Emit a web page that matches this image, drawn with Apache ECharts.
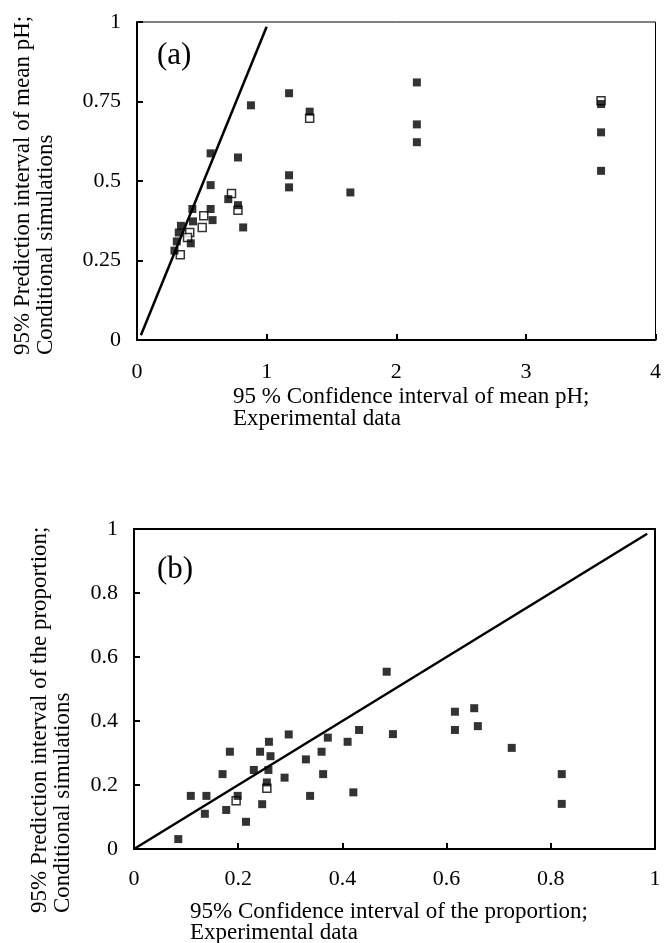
<!DOCTYPE html>
<html>
<head>
<meta charset="utf-8">
<script src="https://cdn.jsdelivr.net/npm/echarts@6/dist/echarts.min.js"></script>
<style>
  html, body { margin: 0; padding: 0; background: #fff; }
  #chart { width: 664px; height: 943px; }
</style>
</head>
<body>
<div id="chart"></div>
<script>
// (a) mean pH: [experimental CI, simulated PI]
var phPoints = [
  [0.879, 0.738], [1.173, 0.776], [1.332, 0.718], [1.173, 0.518], [1.173, 0.480],
  [0.568, 0.587], [0.779, 0.574], [0.568, 0.487], [0.704, 0.443], [0.779, 0.424],
  [0.819, 0.354], [0.568, 0.412], [0.583, 0.377], [0.427, 0.412], [0.432, 0.373],
  [0.415, 0.304], [0.339, 0.359], [0.322, 0.338], [0.307, 0.310], [0.289, 0.281],
  [2.159, 0.810], [2.159, 0.678], [2.159, 0.622], [1.646, 0.464],
  [3.580, 0.742], [3.580, 0.653], [3.580, 0.532]
];
// (a) open squares, mostly covered by the filled ones
var phHidden = [
  [0.729, 0.461], [0.515, 0.391], [0.503, 0.354], [0.407, 0.338], [0.334, 0.268],
  [0.390, 0.322], [1.332, 0.697], [0.779, 0.408], [3.580, 0.752]
];
var phLine = [[0.03, 0.015], [1.0, 0.985]];
var phXTicks = [0, 1, 2, 3, 4];
var phYTicks = [0, 0.25, 0.5, 0.75, 1];

// (b) proportion: [experimental CI, simulated PI]
var propPoints = [
  [0.085, 0.031], [0.109, 0.166], [0.139, 0.166], [0.136, 0.110], [0.170, 0.234],
  [0.184, 0.304], [0.177, 0.122], [0.199, 0.166], [0.215, 0.085], [0.230, 0.247],
  [0.242, 0.304], [0.246, 0.140], [0.255, 0.208], [0.258, 0.247], [0.259, 0.335],
  [0.262, 0.290], [0.289, 0.223], [0.297, 0.358], [0.330, 0.280], [0.338, 0.166],
  [0.360, 0.304], [0.363, 0.234], [0.372, 0.348], [0.410, 0.335], [0.421, 0.177],
  [0.432, 0.372], [0.485, 0.554], [0.497, 0.359], [0.616, 0.429], [0.616, 0.372],
  [0.653, 0.440], [0.660, 0.384], [0.725, 0.316], [0.821, 0.234], [0.821, 0.141]
];
var propHidden = [[0.196, 0.151], [0.255, 0.190]];
var propLine = [[0, 0], [0.985, 0.985]];
var propXTicks = [0, 0.2, 0.4, 0.6, 0.8, 1];
var propYTicks = [0, 0.2, 0.4, 0.6, 0.8, 1];

var FONT = '"Liberation Serif", "DejaVu Serif", serif';

function xAxisFor(gridIndex, ticks, margin) {
  return {
    type: 'value',
    gridIndex: gridIndex,
    min: ticks[0],
    max: ticks[ticks.length - 1],
    interval: ticks[1] - ticks[0],
    splitLine: { show: false },
    axisLine: { lineStyle: { color: '#000', width: 2 } },
    axisTick: { inside: true, length: 6, lineStyle: { color: '#000', width: 2 } },
    axisLabel: { color: '#000', fontFamily: FONT, fontSize: 22, margin: margin }
  };
}

function yAxisFor(gridIndex, ticks) {
  return {
    type: 'value',
    gridIndex: gridIndex,
    min: ticks[0],
    max: ticks[ticks.length - 1],
    interval: ticks[1] - ticks[0],
    splitLine: { show: false },
    axisLine: { lineStyle: { color: '#000', width: 2 } },
    axisTick: { inside: true, length: 6, lineStyle: { color: '#000', width: 2 } },
    axisLabel: { color: '#000', fontFamily: FONT, fontSize: 22, margin: 16 }
  };
}

function filled(idx, data) {
  return {
    type: 'scatter', xAxisIndex: idx, yAxisIndex: idx, data: data,
    symbol: 'rect', symbolSize: 8, z: 4,
    itemStyle: { color: '#000' }, silent: true
  };
}

function hollow(idx, data) {
  return {
    type: 'scatter', xAxisIndex: idx, yAxisIndex: idx, data: data,
    symbol: 'rect', symbolSize: 8, z: 3,
    itemStyle: { color: '#fff', borderColor: '#000', borderWidth: 1.5 }, silent: true
  };
}

function diagonal(idx, data) {
  return {
    type: 'line', xAxisIndex: idx, yAxisIndex: idx, data: data,
    symbol: 'none', z: 2, silent: true,
    lineStyle: { color: '#000', width: 2.5 }
  };
}

function txt(left, top, text, size) {
  return {
    type: 'text', left: left, top: top,
    style: { text: text, fill: '#000', font: size + 'px ' + FONT }
  };
}

function vtxt(x, y, text) {
  // rotated y title, left-aligned at the bottom like the original
  return {
    type: 'text', x: x, y: y, rotation: Math.PI / 2,
    style: { text: text, fill: '#000', font: '23px ' + FONT, lineHeight: 23,
      textAlign: 'left', textVerticalAlign: 'top' }
  };
}

var chart = echarts.init(document.getElementById('chart'));
chart.setOption({
  backgroundColor: '#fff',
  animation: false,
  grid: [
    { left: 137, right: 7, top: 22, height: 318, show: true, borderColor: '#000', borderWidth: 1 },
    { left: 134, right: 9, top: 529, height: 320, show: true, borderColor: '#000', borderWidth: 2 }
  ],
  xAxis: [xAxisFor(0, phXTicks, 21), xAxisFor(1, propXTicks, 19)],
  yAxis: [yAxisFor(0, phYTicks), yAxisFor(1, propYTicks)],
  series: [
    diagonal(0, phLine), hollow(0, phHidden), filled(0, phPoints),
    diagonal(1, propLine), hollow(1, propHidden), filled(1, propPoints)
  ],
  graphic: [
    txt(157, 40, '(a)', 31),
    txt(157, 554, '(b)', 31),
    txt(233, 385, '95 % Confidence interval of mean pH;', 23),
    txt(233, 407, 'Experimental data', 23),
    txt(190, 900, '95% Confidence interval of the proportion;', 23),
    txt(190, 921, 'Experimental data', 23),
    vtxt(11, 355, '95% Prediction interval of mean pH;\nConditional simulations'),
    vtxt(28, 913, '95% Prediction interval of the proportion;\nConditional simulations')
  ]
});
</script>
</body>
</html>
